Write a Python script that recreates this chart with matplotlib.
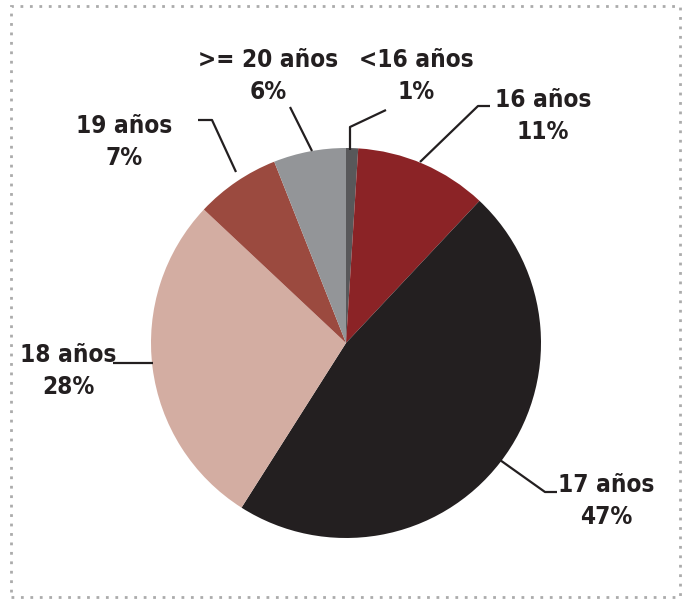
import matplotlib
matplotlib.use("Agg")
import matplotlib.pyplot as plt
from matplotlib.patches import Rectangle

categories = ["<16 años", "16 años", "17 años", "18 años", "19 años", ">= 20 años"]
values = [1, 11, 47, 28, 7, 6]
pct_labels = ["1%", "11%", "47%", "28%", "7%", "6%"]
colors = ["#58585a", "#8b2326", "#231f20", "#d3ada2", "#9b4a3f", "#939598"]

W, H = 683, 600
fig = plt.figure(figsize=(W / 100, H / 100), dpi=100)
ax = fig.add_axes([0, 0, 1, 1])

def Y(y):
    return H - y

cx, cy, r = 346, 343, 195
ax.pie(values, colors=colors, startangle=90, counterclock=False,
       center=(cx, Y(cy)), radius=r, frame=True,
       wedgeprops=dict(linewidth=0))
ax.set_xlim(0, W)
ax.set_ylim(0, H)
ax.set_aspect("equal")
ax.axis("off")

# dotted border
ax.add_patch(Rectangle((11, Y(597)), 669, 591, fill=False, edgecolor="#ababab",
                       linestyle=(0, (1, 2.4)), linewidth=2.0))

# label positions (pixel coords: text block center)
label_pos = {
    "<16 años": (416, 76),
    "16 años": (543, 116),
    "17 años": (606, 501),
    "18 años": (68, 371),
    "19 años": (124, 142),
    ">= 20 años": (268, 76),
}
leaders = {
    "<16 años": [(350, 150), (350, 127), (386, 110)],
    "16 años": [(420, 162), (478, 106), (490, 106)],
    "17 años": [(500, 460), (545, 492), (557, 492)],
    "18 años": [(113, 363), (153, 363)],
    "19 años": [(236, 172), (212, 120), (198, 120)],
    ">= 20 años": [(312, 151), (290, 107)],
}

for cat, pct in zip(categories, pct_labels):
    x, y = label_pos[cat]
    ax.text(x, Y(y), f"{cat}\n{pct}", ha="center", va="center",
            fontsize=17.5, fontweight="bold", color="#231f20",
            family="DejaVu Sans", fontstretch="condensed", linespacing=1.45)
    pts = leaders[cat]
    ax.plot([p[0] for p in pts], [Y(p[1]) for p in pts], color="#231f20", lw=1.6,
            solid_capstyle="butt")

fig.savefig("out.png", dpi=100)
